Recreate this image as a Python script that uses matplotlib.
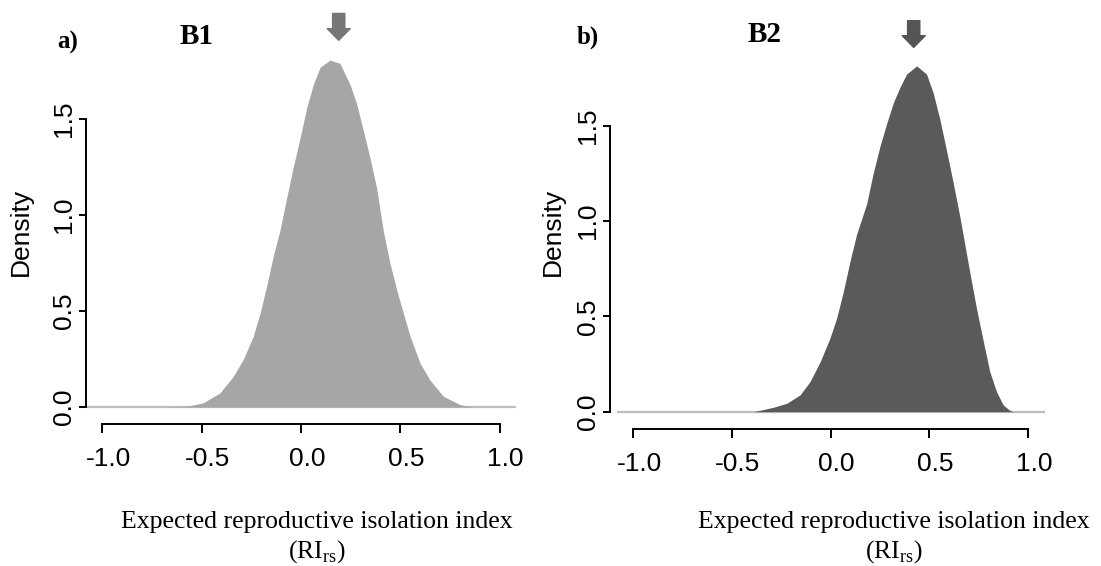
import numpy as np
import matplotlib
matplotlib.use("Agg")
import matplotlib.pyplot as plt
import matplotlib.transforms as mtransforms

plt.rcParams['font.family'] = ['Liberation Sans', 'DejaVu Sans']
plt.rcParams['mathtext.fontset'] = 'custom'
plt.rcParams['mathtext.rm'] = 'Liberation Serif'

# density curves
b1_x = [-0.66, -0.575, -0.492, -0.408, -0.341, -0.29, -0.24, -0.206, -0.173, -0.139,
        -0.106, -0.072, -0.039, -0.005, 0.029, 0.062, 0.096, 0.146, 0.196, 0.247,
        0.28, 0.314, 0.347, 0.381, 0.414, 0.448, 0.482, 0.515, 0.549, 0.599,
        0.65, 0.717, 0.80, 0.86]
b1_y = [0.0, 0.004, 0.022, 0.074, 0.16, 0.25, 0.37, 0.49, 0.63, 0.79,
        0.92, 1.09, 1.25, 1.40, 1.56, 1.68, 1.77, 1.807, 1.79, 1.68,
        1.58, 1.44, 1.30, 1.14, 0.92, 0.75, 0.61, 0.49, 0.37, 0.23,
        0.14, 0.056, 0.013, 0.0]
b2_x = [-0.39, -0.357, -0.29, -0.222, -0.155, -0.105, -0.054, -0.004, 0.03, 0.064,
        0.098, 0.131, 0.182, 0.215, 0.249, 0.283, 0.317, 0.35, 0.384, 0.435,
        0.485, 0.519, 0.553, 0.586, 0.62, 0.654, 0.704, 0.738, 0.772, 0.805,
        0.839, 0.873, 0.906, 0.923]
b2_y = [0.0, 0.007, 0.023, 0.044, 0.088, 0.157, 0.26, 0.385, 0.49, 0.63,
        0.79, 0.93, 1.09, 1.25, 1.39, 1.51, 1.62, 1.70, 1.77, 1.813,
        1.77, 1.67, 1.53, 1.37, 1.20, 1.02, 0.73, 0.54, 0.37, 0.21,
        0.105, 0.035, 0.007, 0.0]
arrow_x = [0.19, 0.42]   # observed values marked by arrows
panels = ['a)', 'b)']
names = ['B1', 'B2']
fills = ['#a6a6a6', '#5a5a5a']
arrow_cols = ['#767676', '#555555']
xticks = [-1.0, -0.5, 0.0, 0.5, 1.0]
yticks = [0.0, 0.5, 1.0, 1.5]

W, H = 1101, 566
fig = plt.figure(figsize=(W / 100, H / 100), dpi=100)

def fx(px):
    return px / W

def fy(py):
    return 1 - py / H

# axes boxes in pixels: left, top, right, bottom
boxes = [(86, 48, 516, 424), (616.7, 55, 1044.7, 429)]
ylows = [-0.0885, -0.091]
yaxis_out = [0, 6.7]
curves = [(b1_x, b1_y), (b2_x, b2_y)]
label_x = [(68, 197, 21, 317), (588, 765, 553, 894)]
label_y = [(42, 36), (37, 35)]
shift = mtransforms.ScaledTranslation(6 / 100, 0, fig.dpi_scale_trans)

for i in range(2):
    l, t, r, b = boxes[i]
    ax = fig.add_axes([fx(l), fy(b), (r - l) / W, (b - t) / H])
    cx, cy = curves[i]
    ax.fill_between(cx, cy, 0, color=fills[i], lw=0, zorder=2)
    ax.axhline(0, color='#bdbdbd', lw=1.6, zorder=1)
    ax.set_xlim(-1.083, 1.083)
    ax.set_ylim(ylows[i], 1.87)
    for s in ['top', 'right']:
        ax.spines[s].set_visible(False)
    ax.spines['left'].set_bounds(0, 1.5)
    ax.spines['bottom'].set_bounds(-1, 1)
    ax.spines['left'].set_position(('outward', yaxis_out[i] * 0.72))
    for s in ['left', 'bottom']:
        ax.spines[s].set_linewidth(1.4)
    ax.set_xticks(xticks)
    ax.set_xticklabels(['%.1f' % v for v in xticks])
    ax.set_yticks(yticks)
    ax.set_yticklabels(['%.1f' % v for v in yticks], rotation=90, va='center')
    ax.tick_params(axis='x', length=6.3, width=1.4, pad=10, labelsize=19)
    ax.tick_params(axis='y', length=5, width=1.4, pad=2, labelsize=19)
    for lab in ax.get_xticklabels():
        lab.set_transform(lab.get_transform() + shift)
    ax.annotate('', xy=(arrow_x[i], 1.91), xytext=(arrow_x[i], 2.05),
                annotation_clip=False,
                arrowprops=dict(arrowstyle='simple,head_width=0.83,head_length=0.42,tail_width=0.44',
                                color=arrow_cols[i], shrinkA=0, shrinkB=0, mutation_scale=20))

    px_a, px_b, px_d, px_xl = label_x[i]
    fig.text(fx(px_a), fy(label_y[i][0]), panels[i], family='Liberation Serif',
             weight='bold', fontsize=18, ha='center', va='center')
    fig.text(fx(px_b), fy(label_y[i][1]), names[i], family='Liberation Serif',
             weight='bold', fontsize=21, ha='center', va='center')
    fig.text(fx(px_d), fy(232), 'Density', rotation=90, fontsize=19,
             ha='center', va='center')
    fig.text(fx(px_xl), fy(522), 'Expected reproductive isolation index',
             family='Liberation Serif', fontsize=18.5, ha='center', va='center')
    fig.text(fx(px_xl), fy(552), r'(RI$_{\mathrm{rs}}$)',
             family='Liberation Serif', fontsize=18.5, ha='center', va='center')

fig.savefig('out.png', dpi=100)
